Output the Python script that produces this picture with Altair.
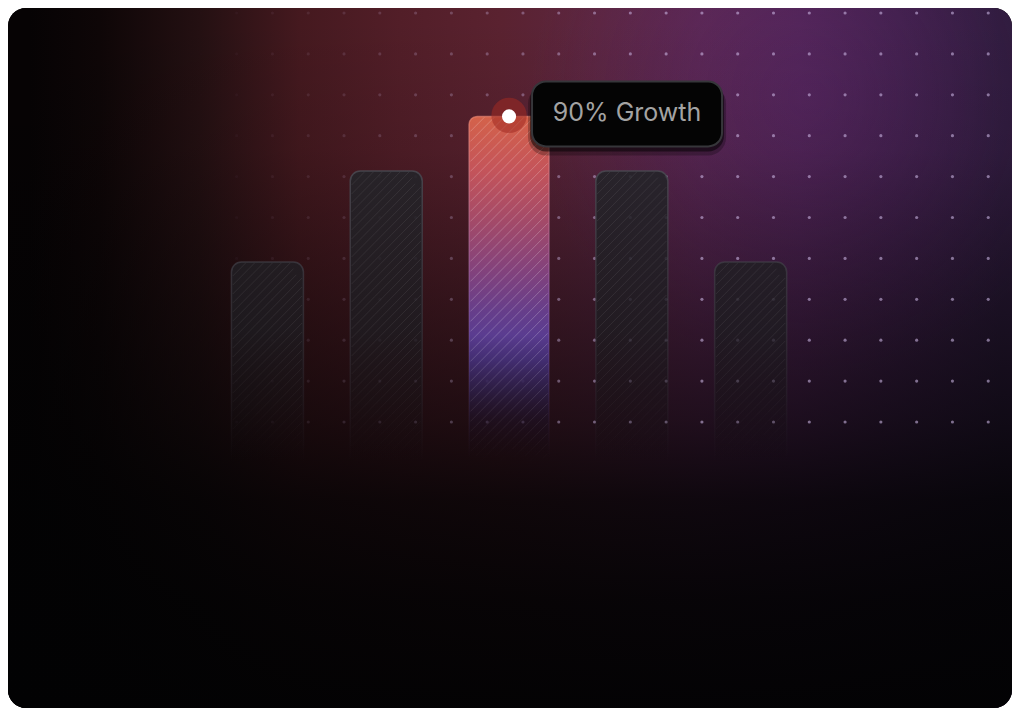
import math
import altair as alt
import pandas as pd

# ---------------- data ----------------
bar_names = ["A", "B", "C", "D", "E"]
bar_values = [50, 75, 90, 75, 50]
highlight_index = 2
callout_text = "90% Growth"

# ---------------- geometry / scales ----------------
W, H = 1004, 700
XD = [-2.14167, 6.225]
YD = [-72.53, 119.78]
FLOOR = -8
BAR_W, HL_W = 72, 80

X_SCALE = alt.Scale(domain=XD, nice=False, zero=False)
Y_SCALE = alt.Scale(domain=YD, nice=False, zero=False)


def xpx(d):
    return (d - XD[0]) * W / (XD[1] - XD[0])


def xdat(p):
    return XD[0] + p * (XD[1] - XD[0]) / W


def ypx(v):
    return H - (v - YD[0]) * H / (YD[1] - YD[0])


def ydat(p):
    return YD[0] + (H - p) * (YD[1] - YD[0]) / H


def shift(i):
    # flex-like layout: the wider highlighted bar pushes its right neighbours
    if i < highlight_index:
        return 0
    if i == highlight_index:
        return (HL_W - BAR_W) / 2
    return HL_W - BAR_W


def rgba(c):
    return "rgba(%d,%d,%d,%.3f)" % (round(c[0]), round(c[1]), round(c[2]), c[3])


def lin(stops, x1=0, y1=0, x2=0, y2=1):
    return {"gradient": "linear", "x1": x1, "y1": y1, "x2": x2, "y2": y2,
            "stops": [{"offset": float(o), "color": c} for o, c in stops]}


def radial(stops, cx, cy, r):
    return {"gradient": "radial", "x1": cx, "y1": cy, "r1": 0, "x2": cx, "y2": cy, "r2": r,
            "stops": [{"offset": float(o), "color": c} for o, c in stops]}


def color_at(profile, y):
    if y <= profile[0][0]:
        return profile[0][1]
    for (ya, ca), (yb, cb) in zip(profile[:-1], profile[1:]):
        if ya <= y <= yb:
            t = (y - ya) / (yb - ya)
            return tuple(ca[k] + (cb[k] - ca[k]) * t for k in range(4))
    return profile[-1][1]


def profile_stops(profile_ref, top, bot):
    profile = [(y - 8, c) for y, c in profile_ref]
    stops = [(0.0, rgba(color_at(profile, top)))]
    for y, c in profile:
        if top < y < bot:
            stops.append(((y - top) / (bot - top), rgba(c)))
    stops.append((1.0, rgba(color_at(profile, bot))))
    return stops


DARK_FILL = [(170, (36, 36, 41, 0.9)), (330, (30, 28, 33, 0.82)),
             (400, (24, 20, 24, 0.5)), (462, (18, 12, 16, 0.0))]
DARK_STROKE = [(170, (74, 74, 82, 0.85)), (330, (60, 58, 66, 0.55)), (462, (50, 45, 55, 0.0))]
HL_FILL = [(116, (212, 98, 74, 1)), (170, (196, 84, 90, 1)), (220, (164, 74, 104, 1)),
           (270, (131, 66, 124, 1)), (310, (103, 62, 138, 1)), (335, (90, 60, 144, 1)),
           (360, (68, 47, 118, 0.95)), (390, (46, 31, 74, 0.85)), (420, (30, 18, 40, 0.55)),
           (458, (20, 10, 20, 0.0))]
HL_STROKE = [(116, (240, 140, 120, 0.6)), (300, (170, 120, 200, 0.35)), (458, (120, 90, 160, 0.0))]

one = alt.Data(values=[{"k": 1}])


def full_rect(fill):
    return alt.Chart(one).mark_rect(fill=fill, cornerRadius=18).encode(
        x=alt.value(0), x2=alt.value(W), y=alt.value(0), y2=alt.value(H))


# ---------------- background ----------------
hx = [(30, "#060304"), (100, "#0e0607"), (200, "#241012"), (300, "#45191f"),
      (400, "#521e28"), (500, "#5a2230"), (600, "#5c2640"), (700, "#5a2750"),
      (800, "#4f2452"), (900, "#3d1f47"), (1000, "#2d1b3b")]
bg_h = full_rect(lin([((x - 8) / W, c) for x, c in hx], 0, 0, 1, 0))
bg_purple = full_rect(radial([(0, "rgba(95,40,115,0.35)"), (1, "rgba(95,40,115,0)")],
                             0.80, 0.24, 0.28))
va = [(20, 0.0), (150, 0.1), (300, 0.42), (420, 0.66), (500, 0.85), (600, 0.94), (700, 0.98)]
bg_v = full_rect(lin([((y - 8) / H, "rgba(2,2,3,%.2f)" % a) for y, a in va]))
card = full_rect("#050304")

# ---------------- dot grid ----------------
dot_rows = []
for i in range(28):
    xr = 17 + 36.15 * i
    m = min(max((xr - 180) / 480, 0), 1) ** 1.3
    for j in range(11):
        yr = 13 + 40.9 * j
        if m > 0:
            dot_rows.append({"x": xdat(xr - 8), "y": ydat(yr - 8), "a": 0.58 * m})
dots = alt.Chart(pd.DataFrame(dot_rows)).mark_circle(size=10, color="#cdb8e6").encode(
    x=alt.X("x:Q", scale=X_SCALE, axis=None),
    y=alt.Y("y:Q", scale=Y_SCALE, axis=None),
    opacity=alt.Opacity("a:Q", scale=None))

# ---------------- bars ----------------
bars_df = pd.DataFrame({"name": bar_names, "idx": list(range(len(bar_names))),
                        "value": bar_values, "floor": [FLOOR] * len(bar_names)})


def bar_layer(i):
    hl = i == highlight_index
    top, bot = ypx(bar_values[i]), ypx(FLOOR)
    r = 8 if hl else 10
    return alt.Chart(bars_df).transform_filter(alt.datum.idx == i).mark_bar(
        width=HL_W if hl else BAR_W, xOffset=shift(i),
        cornerRadiusTopLeft=r, cornerRadiusTopRight=r,
        fill=lin(profile_stops(HL_FILL if hl else DARK_FILL, top, bot)),
        stroke=lin(profile_stops(HL_STROKE if hl else DARK_STROKE, top, bot)),
        strokeWidth=1.5).encode(
        x=alt.X("idx:Q", scale=X_SCALE, axis=None),
        y=alt.Y("value:Q", scale=Y_SCALE, axis=None),
        y2="floor:Q")


def hatch_fade(y_svg):
    yr = y_svg + 8
    if yr <= 330:
        return 1.0
    return max(0.0, 1 - (yr - 330) / (462 - 330))


hatch_rows = []
for i in range(len(bar_values)):
    hl = i == highlight_index
    half = (HL_W if hl else BAR_W) / 2 - 1
    r = 8 if hl else 10
    cx = xpx(i) + shift(i)
    xl, xr_ = cx - half, cx + half
    yt, yb = ypx(bar_values[i]) + 1, ypx(FLOOR)
    base = 0.22 if hl else 0.07
    spacing = 10 if hl else 9

    def inside(x, y):
        if y < yt:
            return False
        if y < yt + r:
            if x < xl + r:
                return (x - (xl + r)) ** 2 + (y - (yt + r)) ** 2 <= r * r
            if x > xr_ - r:
                return (x - (xr_ - r)) ** 2 + (y - (yt + r)) ** 2 <= r * r
        return True

    c = xl + yt + 4
    while c < xr_ + yb:
        xa, xb = max(xl, c - yb), min(xr_, c - yt)
        if xb > xa:
            n = max(1, math.ceil((xb - xa) / 6))
            for k in range(n):
                x0 = xa + (xb - xa) * k / n
                x1 = xa + (xb - xa) * (k + 1) / n
                y0, y1 = c - x0, c - x1
                if not (inside(x0, y0) and inside(x1, y1)):
                    continue
                a = hatch_fade((y0 + y1) / 2)
                if a <= 0:
                    continue
                hatch_rows.append({"x": xdat(x0), "x2": xdat(x1), "y": ydat(y0),
                                   "y2": ydat(y1), "a": base * a})
        c += spacing

hatch = alt.Chart(pd.DataFrame(hatch_rows)).mark_rule(color="white", strokeWidth=1).encode(
    x=alt.X("x:Q", scale=X_SCALE, axis=None), x2="x2:Q",
    y=alt.Y("y:Q", scale=Y_SCALE, axis=None), y2="y2:Q",
    strokeOpacity=alt.StrokeOpacity("a:Q", scale=None))

# ---------------- callout ----------------
hl_df = bars_df[bars_df.idx == highlight_index]
s = shift(highlight_index)
enc = dict(x=alt.X("idx:Q", scale=X_SCALE, axis=None),
           y=alt.Y("value:Q", scale=Y_SCALE, axis=None))
glow = alt.Chart(hl_df).mark_circle(size=1250, color="#a02a22", opacity=0.55,
                                    xOffset=s, yOffset=-1).encode(**enc)
wdot = alt.Chart(hl_df).mark_circle(size=200, color="white", opacity=1,
                                    xOffset=s).encode(**enc)


def box(x0, x1, y0, y1, **kw):
    return alt.Chart(hl_df).mark_rect(xOffset=s + x0, x2Offset=s + x1, yOffset=y0,
                                      y2Offset=y1, **kw).encode(x2="idx:Q", y2="value:Q", **enc)


shadow1 = box(19, 217, -31, 39, cornerRadius=18, color="black", opacity=0.25)
shadow2 = box(21, 215, -33, 35, cornerRadius=16, color="black", opacity=0.5)
tip = box(23, 213, -35, 30, cornerRadius=14, fill="#040404", stroke="#36363a", strokeWidth=2)
label = alt.Chart(hl_df).mark_text(dx=s + 118, dy=-3, align="center", baseline="middle",
                                   fontSize=25, font="Inter", color="#a3a3a3").encode(
    text=alt.value(callout_text), **enc)

layers = [card, bg_h, bg_purple, bg_v, dots] + [bar_layer(i) for i in range(len(bar_values))] + \
         [hatch, glow, wdot, shadow1, shadow2, tip, label]

chart = alt.layer(*layers).properties(
    width=W, height=H, padding=0, autosize="none", background="white"
).configure_view(stroke=None)

chart.save("out.html", embed_options={"renderer": "svg", "actions": False})
